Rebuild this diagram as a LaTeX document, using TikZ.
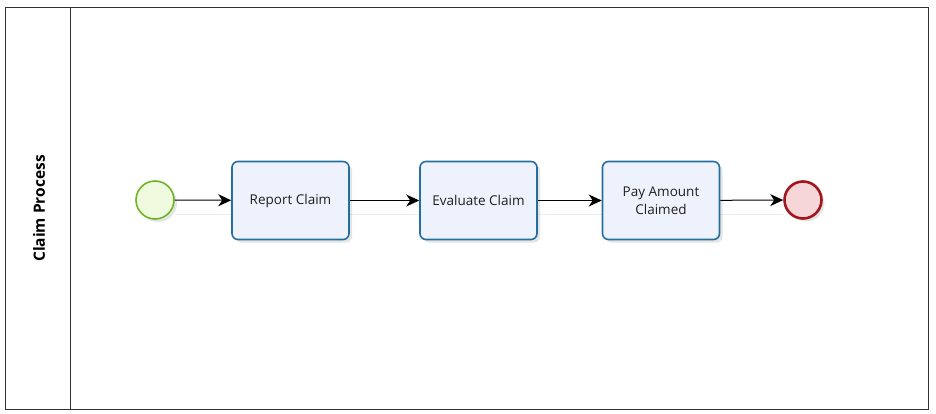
\documentclass[tikz,border=0pt]{standalone}
\usepackage{fontspec}
\setmainfont{Open Sans}
\usetikzlibrary{arrows.meta,shadows}
\definecolor{taskborder}{RGB}{38,110,160}
\definecolor{taskfill}{RGB}{238,242,252}
\definecolor{startborder}{RGB}{110,180,40}
\definecolor{startfill}{RGB}{240,250,222}
\definecolor{endborder}{RGB}{160,22,28}
\definecolor{endfill}{RGB}{246,214,216}
\tikzset{
  lane/.style={draw=black!80, line width=1pt},
  task/.style={draw=taskborder, line width=1.6pt, fill=taskfill, rounded corners=6pt,
    minimum width=117pt, minimum height=78pt, align=center, inner sep=2pt,
    font=\fontsize{13.5}{18}\selectfont, text=black!88,
    drop shadow={shadow xshift=3pt, shadow yshift=-3pt, opacity=0.25, fill=black!40}},
  startev/.style={circle, draw=startborder, line width=1.6pt, fill=startfill, minimum size=38pt, inner sep=0pt,
    drop shadow={shadow xshift=3pt, shadow yshift=-3pt, opacity=0.25, fill=black!40}},
  endev/.style={circle, draw=endborder, line width=2.6pt, fill=endfill, minimum size=37pt, inner sep=0pt,
    drop shadow={shadow xshift=3pt, shadow yshift=-3pt, opacity=0.25, fill=black!40}},
  flow/.style={draw=black, line width=1pt, -{Stealth[length=13pt,width=12pt,inset=4pt]}}
}
\begin{document}
\begin{tikzpicture}[x=1pt,y=-1pt]
\useasboundingbox (0,0) rectangle (936,414);
\fill[white] (0,0) rectangle (936,414);
% pool / lane
\draw[lane] (5,8) rectangle (928,409);
\draw[lane] (70,8) -- (70,409);
\node[rotate=90, font=\bfseries\fontsize{15.5}{18}\selectfont] (lanelabel) at (39,208.5) {Claim Process};
% faint guide line
\draw[black!8, line width=1pt] (175,214) -- (783,214);
% nodes
\node[startev] (start) at (155,200) {};
\node[task] (report) at (290.5,200.5) {Report Claim};
\node[task] (evaluate) at (478.5,200.5) {Evaluate Claim};
\node[task] (pay) at (661,200.5) {Pay Amount\\Claimed};
\node[endev] (end) at (803,200) {};
% flows
\draw[flow] (start) -- (report);
\draw[flow] (report) -- (evaluate);
\draw[flow] (evaluate) -- (pay);
\draw[flow] (pay) -- (end);
\end{tikzpicture}
\end{document}
